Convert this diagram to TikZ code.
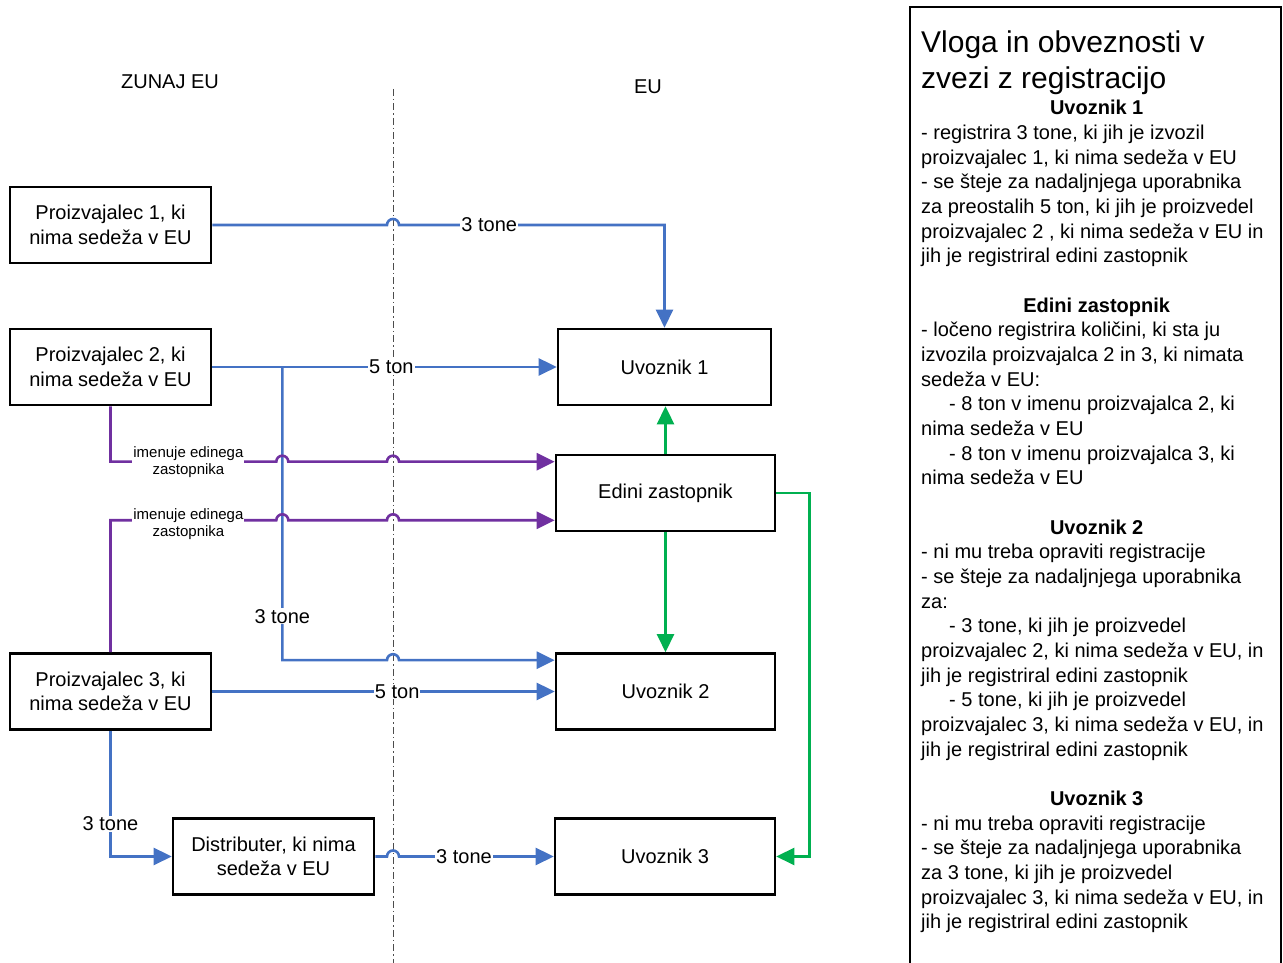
\documentclass[tikz,border=0pt]{standalone}
\usepackage{fontspec}
\setmainfont{Liberation Sans}
\usetikzlibrary{arrows.meta, calc}
\definecolor{flowblue}{RGB}{68,114,196}
\definecolor{repviolet}{RGB}{112,48,160}
\definecolor{dutygreen}{RGB}{0,176,80}

\begin{document}
\begin{tikzpicture}[x=1pt, y=1pt,
    every node/.style={align=center, font=\fontsize{20}{24.67}\selectfont},
    box/.style={draw, line width=2.6pt, minimum width=201pt, minimum height=76pt, inner sep=2pt},
    qty/.style={fill=white, text=black, inner sep=1pt},
    appoint/.style={fill=white, text=black, inner sep=1pt, font=\fontsize{15}{17}\selectfont},
    arr/.style={-{Triangle[length=18pt, width=17pt]}, line width=2.6pt},
    goods/.style={arr, flowblue},
    mandate/.style={arr, repviolet},
    duty/.style={arr, dutygreen},
    border/.style={line width=1pt, black!70, dash pattern=on 7pt off 3pt on 1.5pt off 3pt}
  ]
    \useasboundingbox (0,0) rectangle (1283,963);

    \coordinate (divtop) at (393,874);
    \coordinate (divbot) at (393,0);
    \draw[border] (divtop) -- (divbot);

    \node (outside) at (170,881) {ZUNAJ EU};
    \node (inside)  at (648,876) {EU};

    \node[box] (p1)   at (110.5,738)   {Proizvajalec 1, ki\\nima sedeža v EU};
    \node[box] (p2)   at (110.5,596)   {Proizvajalec 2, ki\\nima sedeža v EU};
    \node[box] (p3)   at (110.5,271.5) {Proizvajalec 3, ki\\nima sedeža v EU};
    \node[box] (dist) at (273.5,106.5) {Distributer, ki nima\\sedeža v EU};
    \node[box, minimum width=213pt] (u1) at (664.5,596) {Uvoznik 1};
    \node[box, minimum width=219pt] (ez) at (665.5,470) {Edini zastopnik};
    \node[box, minimum width=219pt] (u2) at (665.5,271.5) {Uvoznik 2};
    \node[box, minimum width=220pt] (u3) at (665,106.5) {Uvoznik 3};

    \coordinate (split) at ($(p2.east)+(70pt,0)$);
    \coordinate (in2)   at ($(u2.north west)+(0,-8pt)$);
    \coordinate (ina)   at ($(ez.north west)+(0,-8pt)$);
    \coordinate (inb)   at ($(ez.south west)+(0,12pt)$);

    \draw[goods] (p1.east) -- ($(p1.east -| divtop)+(-6pt,0)$) arc[start angle=180, end angle=0, radius=6pt]
      -- node[qty, pos=0.34] {3 tone} (p1.east -| u1.north) -- (u1.north);
    \draw[goods] (p2.east) -- node[qty, pos=0.52] {5 ton} (u1.west);
    \draw[goods] (split) -- node[qty, pos=0.85] {3 tone} (split |- in2)
      -- ($(in2 -| divtop)+(-6pt,0)$) arc[start angle=180, end angle=0, radius=6pt] -- (in2);
    \draw[mandate] (p2.south) -- (p2.south |- ina)
      -- node[appoint, pos=0.47] {imenuje edinega\\zastopnika} ($(ina -| split)+(-6pt,0)$) arc[start angle=180, end angle=0, radius=6pt]
      -- ($(ina -| divtop)+(-6pt,0)$) arc[start angle=180, end angle=0, radius=6pt] -- (ina);
    \draw[mandate] (p3.north) -- (p3.north |- inb)
      -- node[appoint, pos=0.47, yshift=-4pt] {imenuje edinega\\zastopnika} ($(inb -| split)+(-6pt,0)$) arc[start angle=180, end angle=0, radius=6pt]
      -- ($(inb -| divtop)+(-6pt,0)$) arc[start angle=180, end angle=0, radius=6pt] -- (inb);
    \draw[goods] (p3.east) -- node[qty, pos=0.54] {5 ton} (u2.west);
    \draw[goods] (p3.south) |- node[qty, pos=0.37] {3 tone} (dist.west);
    \draw[goods] (dist.east) -- ($(dist.east -| divtop)+(-6pt,0)$) arc[start angle=180, end angle=0, radius=6pt]
      -- node[qty, pos=0.42] {3 tone} (u3.west);

    \draw[duty] (ez.north) -- (ez.north |- u1.south);
    \draw[duty] (ez.south) -- (u2.north);
    \draw[duty] (ez.east) -- ++(33pt,0) |- (u3.east);

    \draw[line width=2.5pt] (910,-10) -- (910,956) -- (1281,956) -- (1281,-10);
    \node[anchor=north west, align=left, inner sep=0, font=\fontsize{30}{36}\selectfont] (title) at (921,932)
      {Vloga in obveznosti v\\zvezi z registracijo};
    \node[anchor=north west, align=left, inner sep=0] (notes) at (921,863) {%
      \makebox[351pt]{\bfseries Uvoznik 1}\\
      - registrira 3 tone, ki jih je izvozil\\
      proizvajalec 1, ki nima sedeža v EU\\
      - se šteje za nadaljnjega uporabnika\\
      za preostalih 5 ton, ki jih je proizvedel\\
      proizvajalec 2 , ki nima sedeža v EU in\\
      jih je registriral edini zastopnik\\
      \mbox{}\\
      \makebox[351pt]{\bfseries Edini zastopnik}\\
      - ločeno registrira količini, ki sta ju\\
      izvozila proizvajalca 2 in 3, ki nimata\\
      sedeža v EU:\\
      \hspace*{28pt}- 8 ton v imenu proizvajalca 2, ki\\
      nima sedeža v EU\\
      \hspace*{28pt}- 8 ton v imenu proizvajalca 3, ki\\
      nima sedeža v EU\\
      \mbox{}\\
      \makebox[351pt]{\bfseries Uvoznik 2}\\
      - ni mu treba opraviti registracije\\
      - se šteje za nadaljnjega uporabnika\\
      za:\\
      \hspace*{28pt}- 3 tone, ki jih je proizvedel\\
      proizvajalec 2, ki nima sedeža v EU, in\\
      jih je registriral edini zastopnik\\
      \hspace*{28pt}- 5 tone, ki jih je proizvedel\\
      proizvajalec 3, ki nima sedeža v EU, in\\
      jih je registriral edini zastopnik\\
      \mbox{}\\
      \makebox[351pt]{\bfseries Uvoznik 3}\\
      - ni mu treba opraviti registracije\\
      - se šteje za nadaljnjega uporabnika\\
      za 3 tone, ki jih je proizvedel\\
      proizvajalec 3, ki nima sedeža v EU, in\\
      jih je registriral edini zastopnik};
  \end{tikzpicture}
\end{document}
